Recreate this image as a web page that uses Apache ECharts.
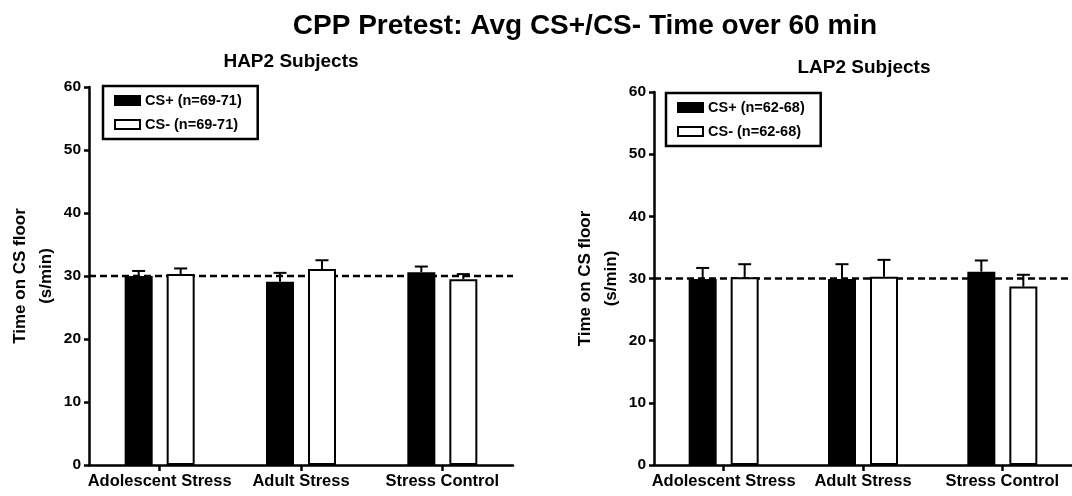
<!DOCTYPE html>
<html>
<head>
<meta charset="utf-8">
<script src="https://cdn.jsdelivr.net/npm/echarts@6/dist/echarts.min.js"></script>
<style>
  html, body { margin: 0; padding: 0; background: #fff; }
  #chart { width: 1072px; height: 496px; }
</style>
</head>
<body>
<div id="chart"></div>
<script>
// Groups on the x axis
const categories = ['Adolescent Stress', 'Adult Stress', 'Stress Control'];

// HAP2 subjects: mean time on CS floor (s/min) and SEM
const hapCsPlus = [30.0, 29.1, 30.6];
const hapCsPlusErr = [0.8, 1.4, 0.9];
const hapCsMinus = [30.3, 31.1, 29.5];
const hapCsMinusErr = [0.9, 1.4, 0.8];

// LAP2 subjects: mean time on CS floor (s/min) and SEM
const lapCsPlus = [29.9, 29.9, 31.1];
const lapCsPlusErr = [1.8, 2.4, 1.8];
const lapCsMinus = [30.2, 30.3, 28.7];
const lapCsMinusErr = [2.1, 2.7, 1.9];

// Chance level (half of each minute)
const chanceLevel = 30;

// Legend entries
const hapNames = ['CS+ (n=69-71)', 'CS- (n=69-71)'];
const lapNames = ['CS+ (n=62-68)', 'CS- (n=62-68)'];

// Y axis range
const yMin = 0, yMax = 60, yStep = 10;

const FONT = "'Liberation Sans', Arial, Helvetica, sans-serif";
const BAR_W = 28;          // inner bar width; border adds the rest
const BAR_BORDER = 2;
const BAR_GAP = '50%';
const BAR_OFFSET = (BAR_W + BAR_W * 0.5) / 2; // centre offset of each bar from the category centre
const CAP = 6.5;

function errorBars(offset) {
  return function (params, api) {
    const i = api.value(0), m = api.value(1), e = api.value(2);
    const base = api.coord([i, m]);
    const top = api.coord([i, m + e]);
    const x = base[0] + offset;
    return {
      type: 'group',
      children: [
        { type: 'line', shape: { x1: x, y1: base[1], x2: x, y2: top[1] }, style: { stroke: '#000', lineWidth: 2 } },
        { type: 'line', shape: { x1: x - CAP, y1: top[1], x2: x + CAP, y2: top[1] }, style: { stroke: '#000', lineWidth: 2 } }
      ]
    };
  };
}

function refLine(params, api) {
  const cs = params.coordSys;
  const y = api.coord([0, api.value(1)])[1];
  return {
    type: 'line',
    shape: { x1: cs.x, y1: y, x2: cs.x + cs.width, y2: y },
    style: { stroke: '#000', lineWidth: 2.5, lineDash: [7, 4] }
  };
}

function xAxisCfg(gridIndex) {
  return {
    type: 'category', gridIndex: gridIndex, data: categories,
    axisLine: { lineStyle: { color: '#000', width: 2.5 } },
    axisTick: { show: true, interval: 0, alignWithLabel: true, length: 6, lineStyle: { color: '#000', width: 2.5 } },
    axisLabel: { interval: 0, color: '#000', fontFamily: FONT, fontWeight: 'bold', fontSize: 16.5, margin: 8 },
    splitLine: { show: false }
  };
}

function yAxisCfg(gridIndex) {
  return {
    type: 'value', gridIndex: gridIndex, min: yMin, max: yMax, interval: yStep,
    name: 'Time on CS floor\n(s/min)', nameLocation: 'middle', nameRotate: 90, nameGap: 30,
    nameTextStyle: { color: '#000', fontFamily: FONT, fontWeight: 'bold', fontSize: 17, lineHeight: 26 },
    axisLine: { show: true, lineStyle: { color: '#000', width: 2.5 } },
    axisTick: { show: true, length: 5, lineStyle: { color: '#000', width: 2.5 } },
    axisLabel: { color: '#000', fontFamily: FONT, fontWeight: 'bold', fontSize: 15.5, margin: 8 },
    splitLine: { show: false }
  };
}

function barSeries(name, values, idx, filled) {
  return {
    name: name, type: 'bar', xAxisIndex: idx, yAxisIndex: idx, data: values,
    barWidth: BAR_W, barGap: BAR_GAP, z: 2,
    itemStyle: { color: filled ? '#000' : '#fff', borderColor: '#000', borderWidth: BAR_BORDER }
  };
}

function errSeries(values, errs, idx, offset) {
  return {
    type: 'custom', xAxisIndex: idx, yAxisIndex: idx, z: 3, silent: true,
    renderItem: errorBars(offset),
    data: values.map((v, i) => [i, v, errs[i]])
  };
}

function refSeries(idx) {
  return {
    type: 'custom', xAxisIndex: idx, yAxisIndex: idx, z: 1, silent: true,
    renderItem: refLine, data: [[0, chanceLevel]]
  };
}

function legendCfg(names, left, top) {
  return {
    data: names, left: left, top: top, orient: 'vertical', selectedMode: false,
    icon: 'rect', itemWidth: 25, itemHeight: 9, itemGap: 9,
    borderColor: '#000', borderWidth: 2.5, borderRadius: 0, padding: [7, 16, 7, 11],
    textStyle: { color: '#000', fontFamily: FONT, fontWeight: 'bold', fontSize: 14.5 }
  };
}

const chart = echarts.init(document.getElementById('chart'), null, { renderer: 'canvas' });
chart.setOption({
  animation: false,
  backgroundColor: '#fff',
  graphic: [
    { type: 'text', x: 585, y: 26, style: { text: 'CPP Pretest: Avg CS+/CS- Time over 60 min', fill: '#000', font: "bold 28px " + FONT, align: 'center', verticalAlign: 'middle' } },
    { type: 'text', x: 291, y: 62, style: { text: 'HAP2 Subjects', fill: '#000', font: "bold 19px " + FONT, align: 'center', verticalAlign: 'middle' } },
    { type: 'text', x: 864, y: 68, style: { text: 'LAP2 Subjects', fill: '#000', font: "bold 19px " + FONT, align: 'center', verticalAlign: 'middle' } }
  ],
  legend: [legendCfg(hapNames, 103, 86), legendCfg(lapNames, 666, 93)],
  grid: [
    { left: 89, top: 87, width: 424, height: 378 },
    { left: 654, top: 92, width: 421, height: 373 }
  ],
  xAxis: [xAxisCfg(0), xAxisCfg(1)],
  yAxis: [yAxisCfg(0), yAxisCfg(1)],
  series: [
    refSeries(0),
    barSeries(hapNames[0], hapCsPlus, 0, true),
    barSeries(hapNames[1], hapCsMinus, 0, false),
    errSeries(hapCsPlus, hapCsPlusErr, 0, -BAR_OFFSET),
    errSeries(hapCsMinus, hapCsMinusErr, 0, BAR_OFFSET),
    refSeries(1),
    barSeries(lapNames[0], lapCsPlus, 1, true),
    barSeries(lapNames[1], lapCsMinus, 1, false),
    errSeries(lapCsPlus, lapCsPlusErr, 1, -BAR_OFFSET),
    errSeries(lapCsMinus, lapCsMinusErr, 1, BAR_OFFSET)
  ]
});
</script>
</body>
</html>
